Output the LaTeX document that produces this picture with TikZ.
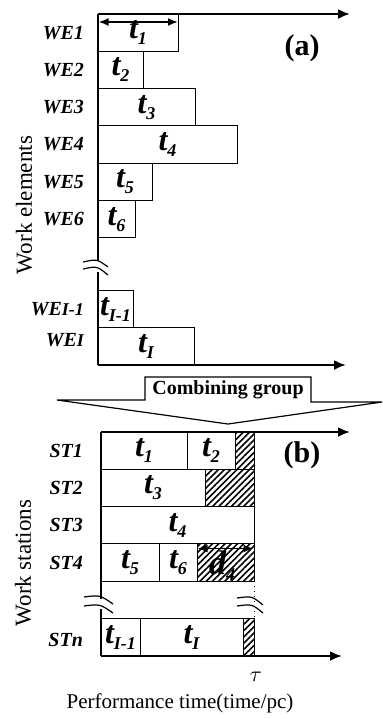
\documentclass[tikz,border=0pt]{standalone}
\usepackage{fontspec}
\setmainfont{Liberation Serif}
\usetikzlibrary{positioning}
\usetikzlibrary{arrows.meta}
\usetikzlibrary{patterns.meta}

\newcommand{\tfont}{\fontsize{16}{16}\selectfont\bfseries\itshape}
\newcommand{\tsub}[1]{\raisebox{-3pt}{\fontsize{9}{9}\selectfont #1}}

\tikzset{
  axis/.style={line width=1.1pt, -{Latex[length=6pt,width=5pt]}},
  span/.style={line width=0.9pt, {Latex[length=5pt,width=4pt]}-{Latex[length=5pt,width=4pt]}},
  elem/.style={draw, line width=0.5pt, anchor=north west, inner sep=0pt, outer sep=0pt,
    minimum height=18.65pt, minimum width=#1*0.5pt, font=\tfont},
  idle/.style={elem=#1, pattern={Lines[angle=45,distance=2.2pt,line width=0.8pt]}},
  rowlab/.style={font=\fontsize{10}{12}\selectfont\bfseries\itshape},
  brk/.style={line width=0.6pt},
}

\begin{document}
\begin{tikzpicture}[x=0.5pt,y=-0.5pt]
    \useasboundingbox (0,0) rectangle (383,719);
    % (a) work elements
    \node[elem=80] (t1a) at (98,14) {\raisebox{-4pt}{t\tsub{1}}};
    \node[elem=45] (t2a) at (98,51.3) {t\tsub{2}};
    \node[elem=97] (t3a) at (98,88.6) {t\tsub{3}};
    \node[elem=139] (t4a) at (98,125.9) {t\tsub{4}};
    \node[elem=54] (t5a) at (98,163.2) {t\tsub{5}};
    \node[elem=37] (t6a) at (98,200.5) {t\tsub{6}};
    \node[elem=35] (tia) at (98,290.4) {t\tsub{I-1}};
    \node[elem=96] (tIa) at (98,327.7) {t\tsub{I}};
    \node[rowlab, left=3.5pt of t1a.west] (we1) {WE1};
    \node[rowlab, left=3.5pt of t2a.west] (we2) {WE2};
    \node[rowlab, left=3.5pt of t3a.west] (we3) {WE3};
    \node[rowlab, left=3.5pt of t4a.west] (we4) {WE4};
    \node[rowlab, left=3.5pt of t5a.west] (we5) {WE5};
    \node[rowlab, left=3.5pt of t6a.west] (we6) {WE6};
    \node[rowlab, left=3.5pt of tia.west] (wei) {WE{\small I-1}};
    \node[rowlab, left=3.5pt of tIa.west, yshift=3pt] (weI) {WE{\small I}};
    \node[rotate=90, font=\fontsize{11.5}{12}\selectfont] (wel) at (24,205) {Work elements};
    \node[font=\fontsize{15}{15}\selectfont\bfseries] (la) at (302,48) {(a)};
    \coordinate (oa) at (98,14);
    \coordinate (xa) at (350,14);
    \coordinate (ba) at (98,365);
    \coordinate (xb) at (346,365);
    \coordinate (ga) at (98,261);
    \coordinate (gb) at (98,272);
    \coordinate (d1l) at (98.5,22);
    \coordinate (d1r) at (178,22);
    \path[draw, axis] (oa) -- (xa);
    \path[draw, axis] (ba) -- (xb);
    \path[draw, line width=1.1pt] (oa) -- (ga);
    \path[draw, line width=1.1pt] (gb) -- (ba);
    \path[draw, brk] (83,262) .. controls (97,259) .. (108,267);
    \path[draw, brk] (83,269) .. controls (97,266) .. (108,275);
    \path[draw, span] (d1l) -- (d1r);
    % combining group
    \node[font=\fontsize{10}{10}\selectfont\bfseries] (cg) at (228,390) {Combining group};
    \path[draw, line width=0.6pt] (57,400) -- (145,400) -- (145,377) -- (311,377) -- (311,402)
      -- (382,402) -- (228,424) -- cycle;
    % (b) work stations
    \node[elem=86] (t1b) at (101,432) {t\tsub{1}};
    \node[elem=48, right=0pt of t1b] (t2b) {t\tsub{2}};
    \node[idle=19, right=0pt of t2b] (i1) {};
    \node[elem=104] (t3b) at (101,469.3) {\raisebox{-3pt}{t\tsub{3}}};
    \node[idle=49, right=0pt of t3b] (i2) {};
    \node[elem=153] (t4b) at (101,506.6) {\raisebox{-3pt}{t\tsub{4}}};
    \node[elem=58] (t5b) at (101,543.9) {t\tsub{5}};
    \node[elem=38, right=0pt of t5b] (t6b) {t\tsub{6}};
    \node[idle=57, right=0pt of t6b] (i4) {};
    \node[elem=39] (tib) at (101,618.5) {t\tsub{I-1}};
    \node[elem=103, right=0pt of tib] (tIb) {t\tsub{I}};
    \node[idle=11, right=0pt of tIb] (in) {};
    \node[rowlab, left=5.5pt of t1b.west] (st1) {ST1};
    \node[rowlab, left=5.5pt of t3b.west] (st2) {ST2};
    \node[rowlab, left=5.5pt of t4b.west] (st3) {ST3};
    \node[rowlab, left=5.5pt of t5b.west] (st4) {ST4};
    \node[rowlab, left=5.5pt of tib.west, yshift=-1.5pt] (stn) {STn};
    \node[rotate=90, font=\fontsize{11.5}{12}\selectfont] (wst) at (23,563) {Work stations};
    \node[font=\fontsize{15}{15}\selectfont\bfseries] (lb) at (302,455) {(b)};
    \node[font=\fontsize{17}{17}\selectfont\bfseries\itshape] (d4) at (222,566) {d\tsub{4}};
    \node[font=\fontsize{11}{11}\selectfont] (tau) at (256,677) {$\tau$};
    \node[font=\fontsize{10.5}{11}\selectfont] (pt) at (180,703) {Performance time(time/pc)};
    \coordinate (ob) at (101,432);
    \coordinate (xc) at (350,432);
    \coordinate (bb) at (101,656);
    \coordinate (xd) at (342,656);
    \coordinate (gc) at (101,599);
    \coordinate (gd) at (101,609);
    \coordinate (d4l) at (197.5,548.5);
    \coordinate (d4r) at (253.5,548.5);
    \coordinate (tl) at (254,581.2);
    \coordinate (tr) at (254,618.5);
    \path[draw, axis] (ob) -- (xc);
    \path[draw, axis] (bb) -- (xd);
    \path[draw, line width=1.1pt] (ob) -- (gc);
    \path[draw, line width=1.1pt] (gd) -- (bb);
    \path[draw, line width=0.5pt] (t5b.south west) -- (tl);
    \path[draw, line width=0.5pt, dotted] (tl) -- (tr);
    \path[draw, brk] (84,597) .. controls (100,595) .. (113,604);
    \path[draw, brk] (84,606) .. controls (100,604) .. (113,613);
    \path[draw, brk] (237,598) .. controls (252,596) .. (263,605);
    \path[draw, brk] (237,606) .. controls (252,604) .. (263,613);
    \path[draw, span] (d4l) -- (d4r);
\end{tikzpicture}
\end{document}
